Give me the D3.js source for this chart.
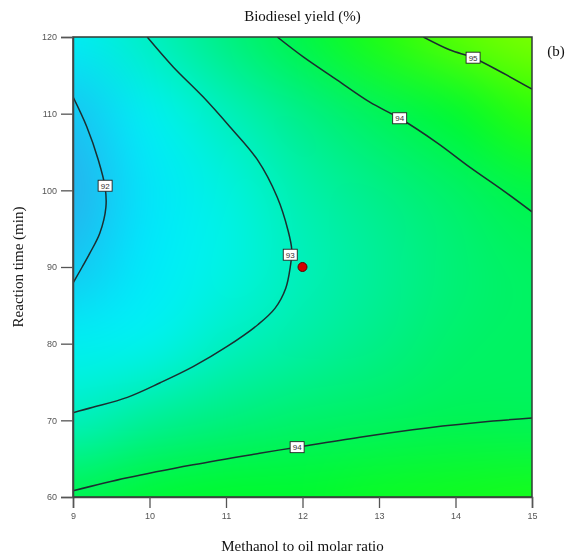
<!DOCTYPE html>
<html>
<head>
<meta charset="utf-8">
<script src="https://cdn.jsdelivr.net/npm/d3@7"></script>
<style>
  body { margin: 0; background: #fff; }
  #wrap { position: relative; width: 581px; height: 559px; }
  #wrap canvas, #wrap svg { position: absolute; left: 0; top: 0; }
</style>
</head>
<body>
<div id="wrap"></div>
<script>
// axis ticks
var xTicks = [9, 10, 11, 12, 13, 14, 15];
var yTicks = [60, 70, 80, 90, 100, 110, 120];

// yield at each tick crossing (rows: 120 down to 60, cols: 9..15)
var gridX = [9, 10, 11, 12, 13, 14, 15];
var gridY = [120, 110, 100, 90, 80, 70, 60];
var yieldGrid = [
  [92.4, 93.0, 93.6, 94.15, 94.7, 95.2, 95.6],
  [91.9, 92.45, 93.05, 93.55, 93.95, 94.35, 94.8],
  [91.6, 92.25, 92.7, 93.2, 93.55, 93.85, 94.15],
  [91.95, 92.3, 92.65, 93.07, 93.4, 93.7, 93.9],
  [92.45, 92.55, 93.0, 93.28, 93.55, 93.8, 93.9],
  [93.05, 93.4, 93.64, 93.8, 93.9, 94.0, 93.98],
  [94.05, 94.3, 94.4, 94.4, 94.5, 94.55, 94.6]
];

// contour lines, [molar ratio, time]
var c92 = [[9.00, 112.2], [9.18, 108.3], [9.33, 104.0], [9.42, 100.4], [9.43, 97.8], [9.35, 94.4], [9.22, 91.8], [9.12, 90.0], [9.00, 87.9]];
var c93 = [[9.97, 120], [10.31, 116.1], [10.70, 112.2], [11.05, 108.3], [11.41, 104.0], [11.67, 99.1], [11.81, 94.8], [11.86, 92.2], [11.84, 90.0],
           [11.78, 87.2], [11.64, 84.6], [11.42, 82.5], [11.01, 79.6], [10.57, 77.0], [10.14, 74.9], [9.71, 73.0], [9.26, 71.7], [9.00, 71.0]];
var c94top = [[11.67, 120], [12.01, 117.4], [12.45, 114.4], [12.88, 111.5], [13.27, 109.4], [13.76, 106.2], [14.19, 103.0], [14.62, 100.0], [15.00, 97.2]];
var c95 = [[13.58, 120], [13.93, 118.3], [14.23, 117.3], [14.62, 115.3], [15.00, 113.2]];
var c94bot = [[9.00, 60.8], [9.71, 62.5], [10.57, 64.2], [11.44, 65.7], [11.93, 66.5], [12.75, 67.8], [13.63, 69.0], [14.49, 69.9], [15.00, 70.3]];
var contourLines = [c92, c93, c94top, c95, c94bot];

var labelText = ["92", "93", "94", "95", "94"];
var labelPos = [[9.42, 100.6], [11.84, 91.6], [13.27, 109.4], [14.23, 117.3], [11.93, 66.5]];

var designPoint = [[12, 90]];

var W = 581, H = 559;
var pL = 73, pR = 532, pT = 37, pB = 497;

var x = d3.scaleLinear().domain([9, 15]).range([pL, pR]);
var y = d3.scaleLinear().domain([60, 120]).range([pB, pT]);

var colour = d3.scaleLinear()
  .domain([91.5, 92.0, 92.3, 92.6, 93.0, 93.5, 94.0, 94.4, 94.8, 95.3, 95.8])
  .range(["#2aaeed", "#13cbf3", "#00eafb", "#00f3ea", "#00f0c2", "#00ef8c", "#00f455", "#00fb2c", "#2aff0a", "#64ff00", "#8aff00"])
  .clamp(true);

//Background field
var pw = pR - pL, ph = pB - pT;
var canvas = d3.select("#wrap").append("canvas")
  .attr("width", pw).attr("height", ph)
  .style("left", pL + "px").style("top", pT + "px");
var tmp = document.createElement("canvas");
tmp.width = gridX.length; tmp.height = gridY.length;
var tctx = tmp.getContext("2d");
var img = tctx.createImageData(gridX.length, gridY.length);
yieldGrid.forEach(function(row, j) {
  row.forEach(function(v, i) {
    var c = d3.rgb(colour(v));
    var k = (j * gridX.length + i) * 4;
    img.data[k] = c.r; img.data[k + 1] = c.g; img.data[k + 2] = c.b; img.data[k + 3] = 255;
  });
});
tctx.putImageData(img, 0, 0);
var ctx = canvas.node().getContext("2d");
ctx.imageSmoothingEnabled = true;
ctx.imageSmoothingQuality = "high";
var cw = pw / (gridX.length - 1), chh = ph / (gridY.length - 1);
ctx.drawImage(tmp, -cw / 2, -chh / 2, cw * gridX.length, chh * gridY.length);

var svg = d3.select("#wrap").append("svg").attr("width", W).attr("height", H);

svg.append("clipPath").attr("id", "plotclip")
  .append("rect").attr("x", pL).attr("y", pT).attr("width", pw).attr("height", ph);

//Contours
var lineGen = d3.line()
  .x(function(d) { return x(d[0]); })
  .y(function(d) { return y(d[1]); })
  .curve(d3.curveCatmullRom.alpha(0.5));

svg.append("g").attr("clip-path", "url(#plotclip)")
  .selectAll("path.contour")
  .data(contourLines)
  .enter()
  .append("path")
    .attr("class", "contour")
    .attr("d", lineGen)
    .attr("fill", "none")
    .attr("stroke", "#1b2e30")
    .attr("stroke-width", 1.5);

//Contour labels
var lab = svg.selectAll("g.clabel")
  .data(labelPos)
  .enter()
  .append("g")
    .attr("class", "clabel")
    .attr("transform", function(d) { return "translate(" + x(d[0]) + "," + y(d[1]) + ")"; });
lab.append("rect")
  .attr("x", -7).attr("y", -5.5).attr("width", 14).attr("height", 11)
  .attr("fill", "#fff").attr("stroke", "#222").attr("stroke-width", 0.9);
lab.append("text")
  .attr("text-anchor", "middle").attr("dy", "0.35em")
  .style("font", "8px 'Liberation Sans', Arial, sans-serif").attr("fill", "#333")
  .text(function(d, i) { return labelText[i]; });

//Design point
svg.selectAll("circle.dp")
  .data(designPoint)
  .enter()
  .append("circle")
    .attr("class", "dp")
    .attr("cx", function(d) { return x(d[0]); })
    .attr("cy", function(d) { return y(d[1]); })
    .attr("r", 4.5)
    .attr("fill", "#d40000")
    .attr("stroke", "#5a0000")
    .attr("stroke-width", 1);

//Frame
svg.append("rect")
  .attr("x", pL).attr("y", pT).attr("width", pw).attr("height", ph)
  .attr("fill", "none").attr("stroke", "#2f3b34").attr("stroke-width", 1.5);

//Axes
var xAxis = svg.append("g").attr("transform", "translate(0," + pB + ")")
  .call(d3.axisBottom(x).tickValues(xTicks).tickSize(11).tickPadding(5).tickFormat(d3.format("d")));
var yAxis = svg.append("g").attr("transform", "translate(" + pL + ",0)")
  .call(d3.axisLeft(y).tickValues(yTicks).tickSize(12).tickPadding(4).tickFormat(d3.format("d")));
[xAxis, yAxis].forEach(function(a) {
  a.select(".domain").attr("stroke", "#444").attr("stroke-width", 1.5);
  a.selectAll(".tick line").attr("stroke", "#555").attr("stroke-width", 1.3);
  a.selectAll(".tick text").attr("fill", "#555")
    .style("font", "9px 'Liberation Sans', Arial, sans-serif");
});

//Titles
var serif = "15px 'Liberation Serif', 'Times New Roman', serif";
svg.append("text").attr("x", (pL + pR) / 2).attr("y", 21)
  .attr("text-anchor", "middle").style("font", serif).attr("fill", "#111")
  .text("Biodiesel yield (%)");
svg.append("text").attr("x", 556).attr("y", 56)
  .attr("text-anchor", "middle").style("font", serif).attr("fill", "#111")
  .text("(b)");
svg.append("text").attr("x", (pL + pR) / 2).attr("y", 551)
  .attr("text-anchor", "middle").style("font", serif).attr("fill", "#111")
  .text("Methanol to oil molar ratio");
svg.append("text")
  .attr("transform", "translate(23," + ((pT + pB) / 2) + ") rotate(-90)")
  .attr("text-anchor", "middle").style("font", serif).attr("fill", "#111")
  .text("Reaction time (min)");
</script>
</body>
</html>
